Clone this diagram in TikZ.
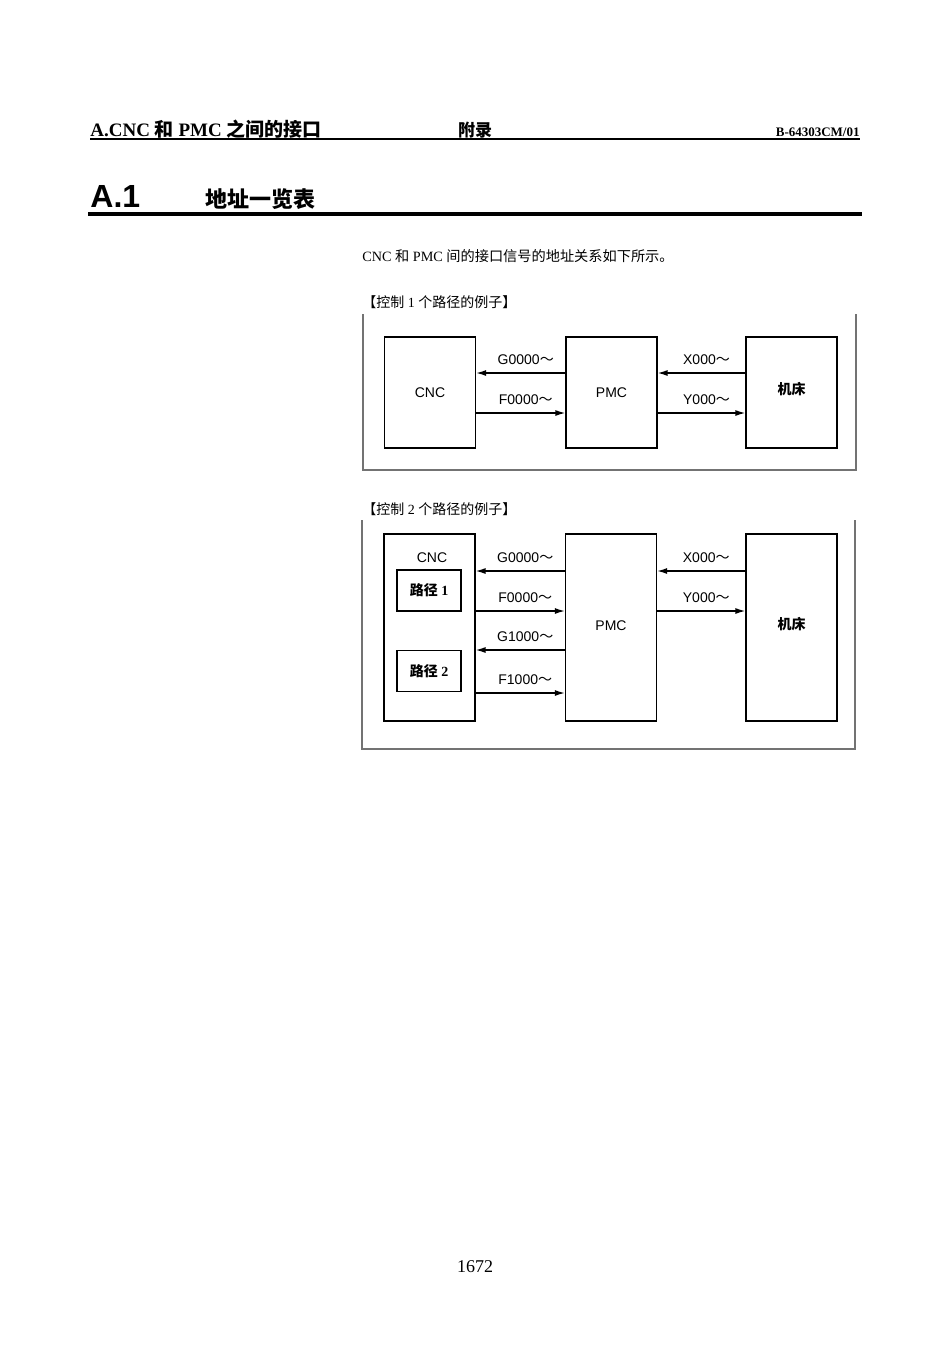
\documentclass[tikz,border=0pt]{standalone}
\usepackage{fontspec}
\setmainfont{Liberation Serif}
\setsansfont{Liberation Sans}
\newfontfamily\cjk{Noto Sans CJK SC}
\newcommand{\zh}[1]{{\cjk #1}}
\newcommand{\wave}{\zh{～}}
\usetikzlibrary{arrows.meta}
\tikzset{
	unit/.style={draw, line width=0.6pt, minimum width=45.5pt, inner sep=0pt, font=\sffamily\fontsize{7}{8}\selectfont},
	pathbox/.style={draw, line width=0.8pt, minimum width=32pt, minimum height=20.5pt, inner sep=0pt, font=\bfseries\fontsize{7}{8}\selectfont},
	sig/.style={line width=0.7pt, -{Latex[length=5pt,width=3pt]}},
	lbl/.style={above=4pt, xshift=2.5pt, inner sep=0pt, font=\sffamily\fontsize{7}{8}\selectfont},
	frame/.style={black!55, line width=0.9pt}
}

\begin{document}
\begin{tikzpicture}[x=0.5pt,y=-0.5pt]
	\useasboundingbox (0,0) rectangle (950,1345);
	
	% page header
	\node[anchor=base west, inner sep=0pt, font=\bfseries\fontsize{9.5}{11}\selectfont] (hdleft) at (90,136) {A.CNC \zh{和} PMC \zh{之间的接口}};
	\node[anchor=base, inner sep=0pt, font=\cjk\bfseries\fontsize{8.5}{10}\selectfont] (hdmid) at (475,136) {附录};
	\node[anchor=base east, inner sep=0pt, font=\bfseries\fontsize{6.5}{8}\selectfont] (hdright) at (860,136) {B-64303CM/01};
	\draw[line width=1pt] (90,138.5) -- (860,138.5);
	
	% section title
	\node[anchor=base west, inner sep=0pt, font=\sffamily\bfseries\fontsize{16}{18}\selectfont] (secnum) at (90,207) {A.1};
	\node[anchor=base west, inner sep=0pt, font=\cjk\bfseries\fontsize{11}{13}\selectfont] (sectitle) at (205,207) {地址一览表};
	\draw[line width=1.6pt] (88,214) -- (862,214);
	
	\node[anchor=base west, inner sep=0pt, font=\fontsize{7.1}{8}\selectfont] (intro) at (362,261) {CNC \zh{和} PMC \zh{间的接口信号的地址关系如下所示。}};
	
	% example 1
	\node[anchor=base west, inner sep=0pt, font=\fontsize{7}{8}\selectfont] (title1) at (362,307) {\zh{【控制} 1 \zh{个路径的例子】}};
	\draw[frame] (363,314) -- (363,470) -- (856,470) -- (856,314);
	
	\node[unit, minimum height=55.5pt] (cnc1) at (430,392.5) {CNC};
	\node[unit, minimum height=55.5pt] (pmc1) at (611.5,392.5) {PMC};
	\node[unit, minimum height=55.5pt, text depth=4pt, font=\cjk\bfseries\fontsize{7}{8}\selectfont] (mt1) at (791.5,392.5) {机床};
	
	\coordinate (r1a) at (0,373);
	\coordinate (r1b) at (0,413);
	\draw[sig] (pmc1.west |- r1a) -- node[lbl] (g1) {G0000\wave} (cnc1.east |- r1a);
	\draw[sig] (cnc1.east |- r1b) -- node[lbl] (f1) {F0000\wave} (pmc1.west |- r1b);
	\draw[sig] (mt1.west |- r1a) -- node[lbl] (x1) {X000\wave} (pmc1.east |- r1a);
	\draw[sig] (pmc1.east |- r1b) -- node[lbl] (y1) {Y000\wave} (mt1.west |- r1b);
	
	% example 2
	\node[anchor=base west, inner sep=0pt, font=\fontsize{7}{8}\selectfont] (title2) at (362,514) {\zh{【控制} 2 \zh{个路径的例子】}};
	\draw[frame] (362,520) -- (362,749) -- (855,749) -- (855,520);
	
	\node[unit, minimum height=93.5pt] (cnc2) at (429.5,627.5) {};
	\node[inner sep=0pt, font=\sffamily\fontsize{7}{8}\selectfont] (cnc2lbl) at (432,558) {CNC};
	\node[pathbox] (path1) at (429,590.5) {\zh{路径} 1};
	\node[pathbox] (path2) at (429,671) {\zh{路径} 2};
	\node[unit, minimum height=93.5pt, text depth=2pt] (pmc2) at (611,627.5) {PMC};
	\node[unit, minimum height=93.5pt, text depth=4pt, font=\cjk\bfseries\fontsize{7}{8}\selectfont] (mt2) at (791.5,627.5) {机床};
	
	\coordinate (r2a) at (0,571);
	\coordinate (r2b) at (0,611);
	\coordinate (r2c) at (0,650);
	\coordinate (r2d) at (0,693);
	\draw[sig] (pmc2.west |- r2a) -- node[lbl] (g2) {G0000\wave} (cnc2.east |- r2a);
	\draw[sig] (cnc2.east |- r2b) -- node[lbl] (f2) {F0000\wave} (pmc2.west |- r2b);
	\draw[sig] (pmc2.west |- r2c) -- node[lbl] (g3) {G1000\wave} (cnc2.east |- r2c);
	\draw[sig] (cnc2.east |- r2d) -- node[lbl] (f3) {F1000\wave} (pmc2.west |- r2d);
	\draw[sig] (mt2.west |- r2a) -- node[lbl] (x2) {X000\wave} (pmc2.east |- r2a);
	\draw[sig] (pmc2.east |- r2b) -- node[lbl] (y2) {Y000\wave} (mt2.west |- r2b);
	
	% page number
	\node[anchor=base, inner sep=0pt, font=\fontsize{9}{10}\selectfont] (pagenum) at (475,1272) {1672};
	
\end{tikzpicture}
\end{document}
